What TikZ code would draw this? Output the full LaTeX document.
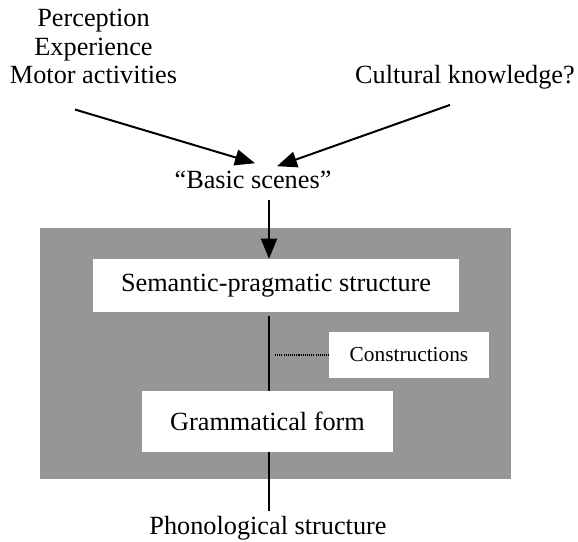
\documentclass[tikz,border=0pt]{standalone}
\usepackage{fontspec}
\setmainfont{Liberation Serif}
\usetikzlibrary{arrows.meta,calc}
\definecolor{panel}{RGB}{150,150,150}

\begin{document}
\begin{tikzpicture}[x=0.75pt,y=-0.75pt,
  lbl/.style={inner sep=0pt, font=\fontsize{19.7}{23}\selectfont},
  stagebox/.style={fill=white, inner sep=0pt, font=\fontsize{19.7}{23}\selectfont},
  arr/.style={line width=1.5pt, -{Triangle[length=15pt,width=12pt]}},
  link/.style={line width=1.5pt},
  dotlink/.style={line width=0.8pt, dash pattern=on 0.8pt off 0.8pt}]

  \useasboundingbox (0,0) rectangle (578,542);

  % shaded panel holding the grammar components
  \fill[panel] (40,228) rectangle (511,479);

  % sources of basic scenes
  \node[lbl, anchor=base] (perc)  at (93.5,27) {Perception};
  \node[lbl, anchor=base] (exper) at (93.5,55.5) {Experience};
  \node[lbl, anchor=base] (motor) at (93.5,84) {Motor activities};
  \node[lbl, anchor=base] (cult)  at (465,84) {Cultural knowledge?};

  \node[lbl, anchor=base] (basic) at (253,188) {“Basic scenes”};

  % grammar components
  \node[stagebox, minimum width=274.5pt, minimum height=39.75pt] (sem) at (276,285.5) {Semantic-pragmatic structure};
  \node[stagebox, minimum width=188.25pt, minimum height=45.75pt] (gram) at (267.5,421.5) {Grammatical form};
  \node[stagebox, font=\fontsize{16}{19}\selectfont, minimum width=120pt, minimum height=34.5pt] (cons) at (409,355) {Constructions};

  \node[lbl, anchor=base] (phon) at (268,534) {Phonological structure};

  % connectors
  \draw[arr] ($(motor.south)+(-18.5,25)$) -- ($(basic.north)+(2,-7)$);
  \draw[arr] ($(cult.south)+(-15,15)$) -- ($(basic.north)+(24,-4)$);
  \draw[arr] ($(basic.south)+(16,11)$) -- (sem.north -| 269,0);
  \draw[link] ($(sem.south -| 269,0)+(0,4)$) -- (gram.north -| 269,0);
  \draw[link] (gram.south -| 269,0) -- ($(phon.north -| 269,0)+(0,-5)$);
  \draw[dotlink] (275,355) -- (cons.west);
\end{tikzpicture}
\end{document}
